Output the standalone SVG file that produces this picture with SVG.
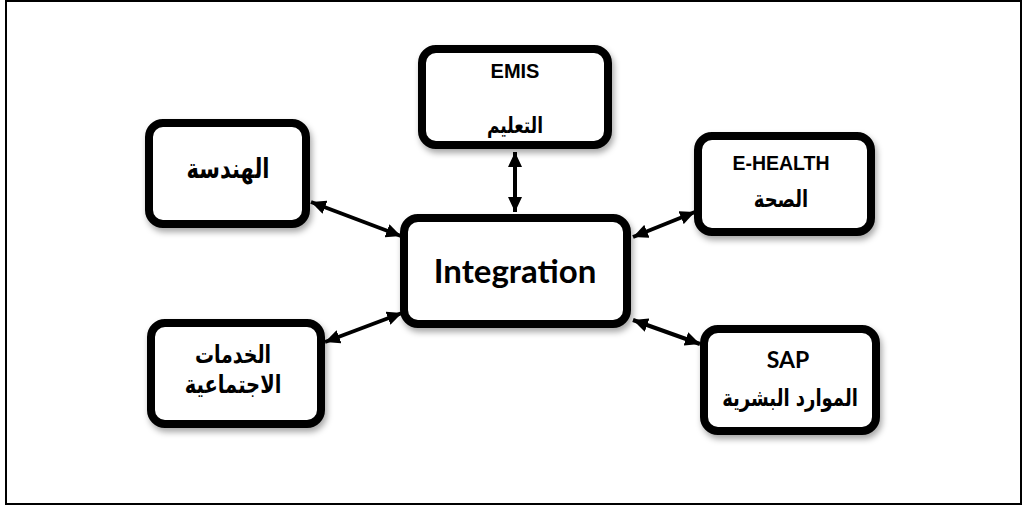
<svg xmlns="http://www.w3.org/2000/svg" width="1028" height="506" viewBox="0 0 1028 506">
  <style>
    .box { fill: #ffffff; stroke: #000000; stroke-width: 8; filter: url(#shadow); }
    .conn { stroke: #000000; stroke-width: 4; fill: none; marker-start: url(#arrow); marker-end: url(#arrow); }
    .lat { font-family: "Liberation Sans", Arial, sans-serif; font-weight: bold; fill: #000; text-anchor: middle; }
    .cal { font-family: Lato, "Open Sans", sans-serif; font-weight: bold; fill: #000; text-anchor: middle; }
    .ar { font-family: "DejaVu Sans", "Noto Sans", sans-serif; font-weight: bold; fill: #000; text-anchor: middle; direction: rtl; }
  </style>
  <defs>
    <filter id="shadow" x="-20%" y="-20%" width="140%" height="150%">
      <feDropShadow dx="2" dy="4" stdDeviation="3" flood-color="#000" flood-opacity="0.35"/>
    </filter>
    <marker id="arrow" markerUnits="userSpaceOnUse" markerWidth="15" markerHeight="14" refX="15" refY="7" orient="auto-start-reverse">
      <path d="M0,0 L15,7 L0,14 z" fill="#000"/>
    </marker>
  </defs>
  <rect x="6" y="1" width="1015" height="503" fill="#ffffff" stroke="#000" stroke-width="2"/>

  <g id="connectors">
    <line class="conn" x1="515" y1="152" x2="515" y2="212"/>
    <line class="conn" x1="311" y1="202" x2="401" y2="236"/>
    <line class="conn" x1="633" y1="237" x2="695" y2="212"/>
    <line class="conn" x1="325" y1="342" x2="402" y2="313"/>
    <line class="conn" x1="633" y1="320" x2="700" y2="344"/>
  </g>

  <g id="node-emis">
    <rect class="box" x="422" y="49" width="186" height="96" rx="14"/>
    <text class="lat" x="515" y="78" font-size="20">EMIS</text>
    <text class="ar" transform="translate(515,133) scale(1,1.3)" font-size="17">التعليم</text>
  </g>

  <g id="node-handasa">
    <rect class="box" x="149" y="123" width="157" height="101" rx="14"/>
    <text class="ar" transform="translate(228,178) scale(1,1.3)" font-size="21">الهندسة</text>
  </g>

  <g id="node-integration">
    <rect class="box" x="404" y="218" width="223" height="106" rx="14"/>
    <text class="cal" x="515" y="283" font-size="33">Integration</text>
  </g>

  <g id="node-ehealth">
    <rect class="box" x="698" y="136" width="173" height="96" rx="14"/>
    <text class="lat" x="781" y="170" font-size="19.5">E-HEALTH</text>
    <text class="ar" transform="translate(781,207) scale(1,1.3)" font-size="18">الصحة</text>
  </g>

  <g id="node-social">
    <rect class="box" x="151" y="323" width="170" height="101" rx="14"/>
    <text class="ar" transform="translate(233,363) scale(1,1.3)" font-size="19">الخدمات</text>
    <text class="ar" transform="translate(233,393) scale(1,1.3)" font-size="19.5">الاجتماعية</text>
  </g>

  <g id="node-sap">
    <rect class="box" x="704" y="329" width="172" height="102" rx="14"/>
    <text class="cal" x="788" y="368" font-size="23">SAP</text>
    <text class="ar" transform="translate(790,406) scale(1,1.3)" font-size="18">الموارد البشرية</text>
  </g>
</svg>
